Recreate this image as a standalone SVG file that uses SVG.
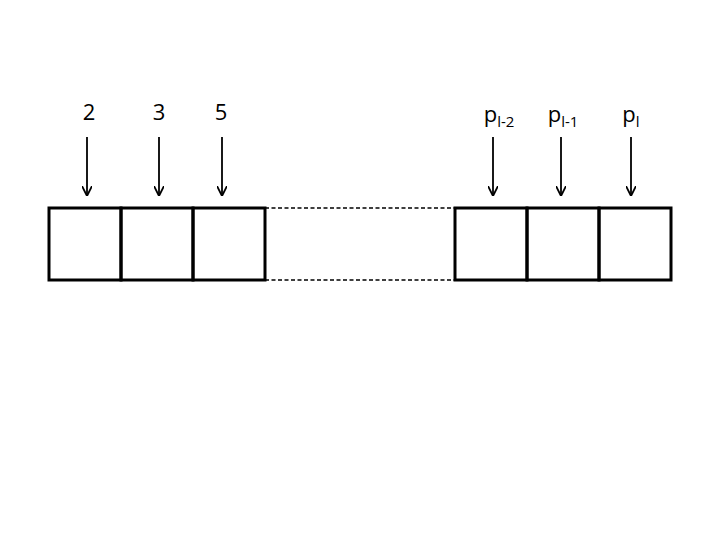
<svg xmlns="http://www.w3.org/2000/svg" width="720" height="540" viewBox="0 0 720 540">
<style>
.cell{fill:none;stroke:#000;stroke-width:3}
.arr{stroke:#000;stroke-width:1.8;fill:none}
.dash{stroke:#000;stroke-width:1.5;stroke-dasharray:4 2.5;fill:none}
.lbl{font-family:"Open Sans","Liberation Sans",sans-serif;font-size:22px;fill:#000;text-anchor:middle}
.sub{font-size:15px}
</style>
<defs>
<marker id="ah" viewBox="0 0 10 10" refX="10" refY="5" markerWidth="10" markerHeight="10" markerUnits="userSpaceOnUse" orient="auto">
<path d="M0,0 L10,5 L0,10" fill="none" stroke="#000" stroke-width="1.8"/>
</marker>
</defs>
<rect width="720" height="540" fill="#fff"/>
<g id="connectors">
<line class="dash" x1="265" y1="208" x2="455" y2="208"/>
<line class="dash" x1="265" y1="280" x2="455" y2="280"/>
<line class="arr" x1="87" y1="137" x2="87" y2="196" marker-end="url(#ah)"/>
<line class="arr" x1="159" y1="137" x2="159" y2="196" marker-end="url(#ah)"/>
<line class="arr" x1="222" y1="137" x2="222" y2="196" marker-end="url(#ah)"/>
<line class="arr" x1="493" y1="137" x2="493" y2="196" marker-end="url(#ah)"/>
<line class="arr" x1="561" y1="137" x2="561" y2="196" marker-end="url(#ah)"/>
<line class="arr" x1="631" y1="137" x2="631" y2="196" marker-end="url(#ah)"/>
</g>
<g id="cell1"><rect class="cell" x="49" y="208" width="72" height="72"/><text class="lbl" x="89" y="120">2</text></g>
<g id="cell2"><rect class="cell" x="121" y="208" width="72" height="72"/><text class="lbl" x="159" y="120">3</text></g>
<g id="cell3"><rect class="cell" x="193" y="208" width="72" height="72"/><text class="lbl" x="221" y="120">5</text></g>
<g id="cell4"><rect class="cell" x="455" y="208" width="72" height="72"/><text class="lbl" x="499" y="122">p<tspan class="sub" dy="5">l-2</tspan></text></g>
<g id="cell5"><rect class="cell" x="527" y="208" width="72" height="72"/><text class="lbl" x="563" y="122">p<tspan class="sub" dy="5">l-1</tspan></text></g>
<g id="cell6"><rect class="cell" x="599" y="208" width="72" height="72"/><text class="lbl" x="631" y="122">p<tspan class="sub" dy="5">l</tspan></text></g>
</svg>
